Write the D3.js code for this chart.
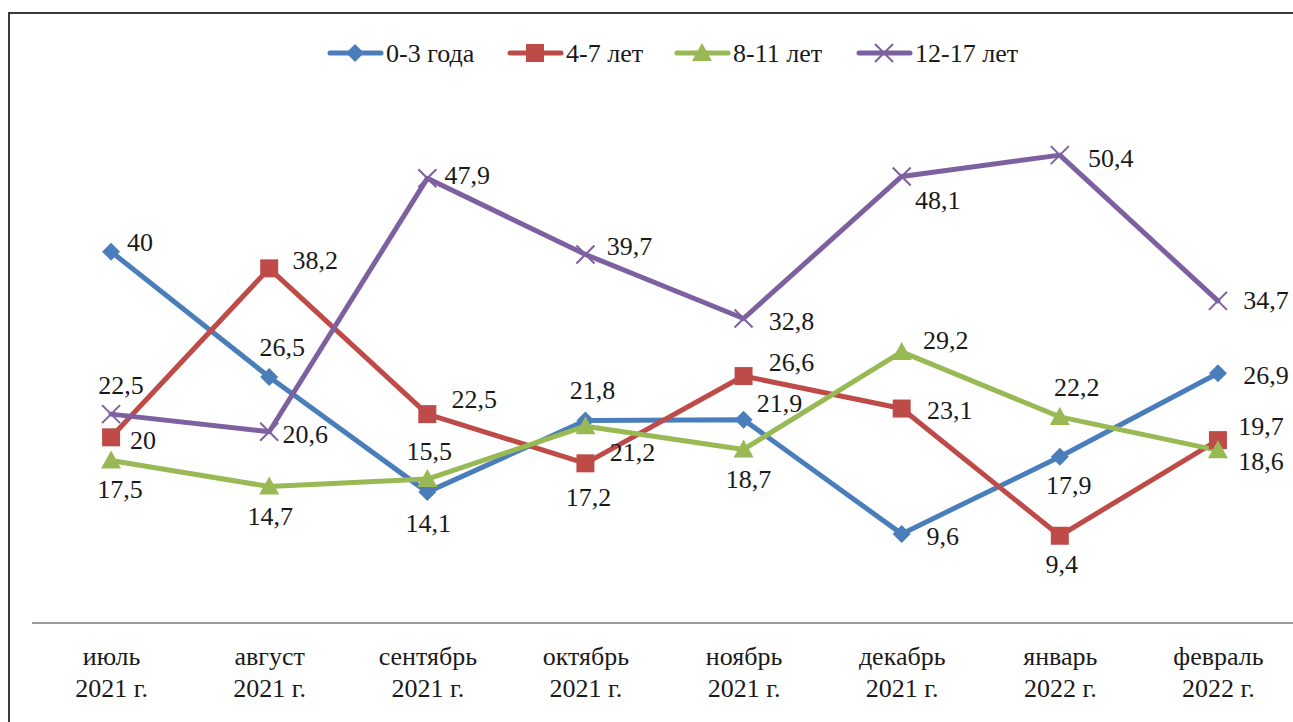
<!DOCTYPE html>
<html>
<head>
<meta charset="utf-8">
<script src="https://cdn.jsdelivr.net/npm/d3@7"></script>
<style>
  html body #chart text, html body #chart tspan {
    font-family: "Liberation Serif", "Tinos", "Times New Roman", serif !important;
  }
</style>
</head>
<body style="margin:0">
<svg id="chart" width="1293" height="722"></svg>
<script>
// Age groups, months and the monthly values for each group
const categories = ["июль|2021 г.", "август|2021 г.", "сентябрь|2021 г.", "октябрь|2021 г.",
                    "ноябрь|2021 г.", "декабрь|2021 г.", "январь|2022 г.", "февраль|2022 г."];
const seriesNames = ["0-3 года", "4-7 лет", "8-11 лет", "12-17 лет"];
const values0to3   = [40, 26.5, 14.1, 21.8, 21.9, 9.6, 17.9, 26.9];
const values4to7   = [20, 38.2, 22.5, 17.2, 26.6, 23.1, 9.4, 19.7];
const values8to11  = [17.5, 14.7, 15.5, 21.2, 18.7, 29.2, 22.2, 18.6];
const values12to17 = [22.5, 20.6, 47.9, 39.7, 32.8, 48.1, 50.4, 34.7];
const yDomain = [0, 60];

// Styling per series
const colors  = ["#4A7EBB", "#BE4B48", "#98B954", "#7D60A0"];
const symbols = ["diamond", "square", "triangle", "cross"];

// Label offsets (dx, dy) from each point to the label centre
const labelOffsets = [
  [[29,-10],[13,-30],[1,31],[7,-31],[36,-17],[41,2],[9,28],[48,2]],
  [[32,3],[46,-8],[47,-15],[3,34],[48,-14],[48,1],[2,28],[43,-14]],
  [[9,28],[1,29],[2,-28],[47,26],[5,29],[44,-12],[17,-30],[43,11]],
  [[10,-29],[36,2],[40,-3],[44,-9],[48,2],[36,23],[51,3],[48,-1]]
];

const allSeries = [values0to3, values4to7, values8to11, values12to17];
const fmt = v => String(v).replace(".", ",");

const svg = d3.select("#chart").style("display", "block");

// Chart frame
svg.append("rect")
  .attr("x", 9).attr("y", 13).attr("width", 1300).attr("height", 720)
  .attr("fill", "none").attr("stroke", "#3a3a3a").attr("stroke-width", 2);

const x = d3.scalePoint().domain(categories).range([32, 1297]).padding(0.5);
const y = d3.scaleLinear().domain(yDomain).range([623, 66]);

function styleText(sel) {
  return sel.attr("font-family", "Liberation Serif, serif").attr("font-size", 26)
    .attr("fill", "#1a1a1a");
}

// Category axis
const xAxis = svg.append("g").attr("transform", `translate(0,${y(0)})`)
  .call(d3.axisBottom(x).tickSize(0).tickFormat(""));
xAxis.attr("font-family", null).attr("font-size", null);
xAxis.select(".domain").attr("d", "M32,0H1293").attr("stroke", "#9a9a9a").attr("stroke-width", 2);
xAxis.selectAll(".tick").each(function (d) {
  const parts = d.split("|");
  const t = styleText(d3.select(this).append("text").attr("text-anchor", "middle"));
  t.append("tspan").attr("x", 0).attr("y", 665 - 623).text(parts[0]);
  t.append("tspan").attr("x", 0).attr("y", 697 - 623).text(parts[1]);
});

// Marker drawing
function drawMarker(g, type, color) {
  if (type === "diamond") {
    g.append("path").attr("d", "M0,-9L9,0L0,9L-9,0Z").attr("fill", color);
  } else if (type === "square") {
    g.append("rect").attr("x", -9).attr("y", -9).attr("width", 18).attr("height", 18).attr("fill", color);
  } else if (type === "triangle") {
    g.append("path").attr("d", "M0,-10L10,8L-10,8Z").attr("fill", color);
  } else {
    g.append("path").attr("d", "M-9,-9L9,9M-9,9L9,-9").attr("stroke", color)
      .attr("stroke-width", 2).attr("fill", "none");
  }
}

const line = d3.line().x((d, i) => x(categories[i])).y(d => y(d));

// Series lines
allSeries.forEach((vals, s) => {
  svg.append("path").datum(vals)
    .attr("d", line).attr("fill", "none")
    .attr("stroke", colors[s]).attr("stroke-width", 5)
    .attr("stroke-linejoin", "round").attr("stroke-linecap", "round");
});

// Markers
allSeries.forEach((vals, s) => {
  vals.forEach((v, i) => {
    const g = svg.append("g").attr("transform", `translate(${x(categories[i])},${y(v)})`);
    drawMarker(g, symbols[s], colors[s]);
  });
});

// Value labels
allSeries.forEach((vals, s) => {
  vals.forEach((v, i) => {
    const [dx, dy] = labelOffsets[s][i];
    styleText(svg.append("text")
      .attr("x", x(categories[i]) + dx).attr("y", y(v) + dy)
      .attr("text-anchor", "middle").attr("dy", "0.35em"))
      .text(fmt(v));
  });
});

// Legend
const legendX = [328, 508, 675, 857];
seriesNames.forEach((name, s) => {
  const g = svg.append("g").attr("transform", `translate(${legendX[s]},53)`);
  g.append("line").attr("x1", 2).attr("x2", 53).attr("y1", 0).attr("y2", 0)
    .attr("stroke", colors[s]).attr("stroke-width", 5).attr("stroke-linecap", "round");
  const m = g.append("g").attr("transform", "translate(27,0)");
  drawMarker(m, symbols[s], colors[s]);
  styleText(g.append("text").attr("x", 58).attr("y", 9)).text(name);
});
</script>
</body>
</html>
